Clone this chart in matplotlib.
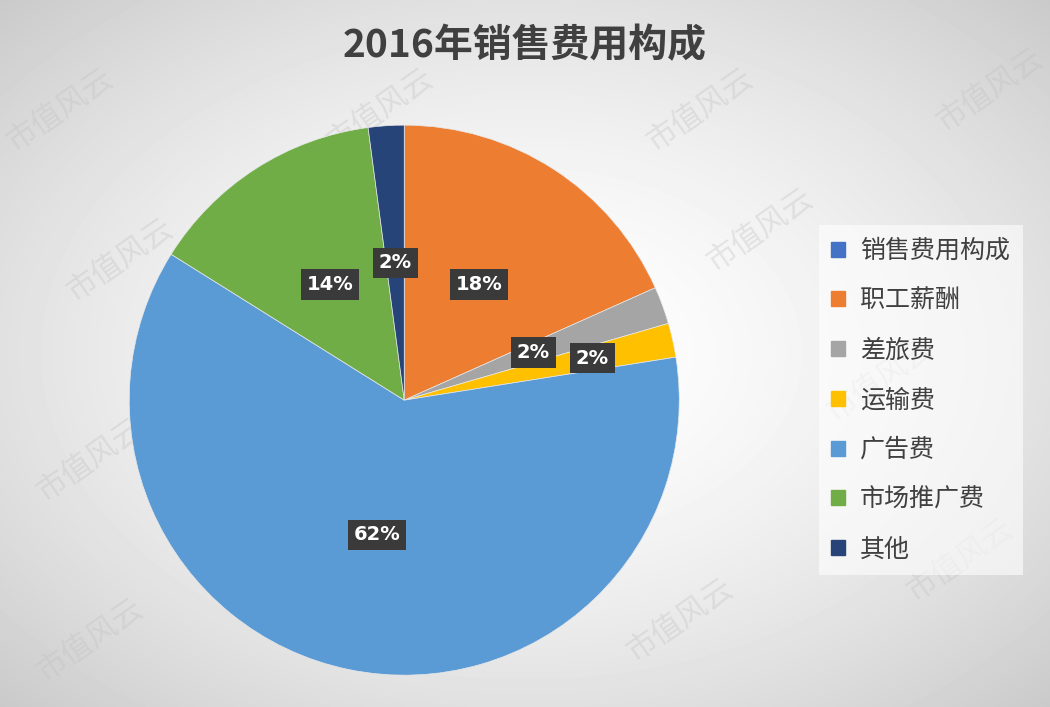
import numpy as np
import matplotlib.pyplot as plt
from matplotlib.patches import Patch

plt.rcParams['font.family'] = ['Noto Sans CJK SC', 'DejaVu Sans']

title = "2016年销售费用构成"
series_name = "销售费用构成"
categories = ["职工薪酬", "差旅费", "运输费", "广告费", "市场推广费", "其他"]
values = [18.3, 2.2, 2.0, 61.4, 14.0, 2.1]
labels = ["18%", "2%", "2%", "62%", "14%", "2%"]
colors = ["#ED7D31", "#A5A5A5", "#FFC000", "#5B9BD5", "#70AD47", "#264478"]

fig = plt.figure(figsize=(10.5, 7.07), dpi=100)

# radial grey background
bg = fig.add_axes([0, 0, 1, 1])
yy, xx = np.mgrid[0:707, 0:1050]
r = np.sqrt(((xx - 525) / 525.0) ** 2 + ((yy - 353) / 353.0) ** 2)
shade = np.clip(1.0 - 0.12 * r ** 1.6, 0, 1)
bg.imshow(shade, cmap='gray', vmin=0, vmax=1, aspect='auto', extent=[0, 1050, 707, 0])
bg.set_xlim(0, 1050)
bg.set_ylim(707, 0)
bg.axis('off')

# watermark
wm = [(60, 110), (380, 110), (700, 110), (990, 90), (120, 260), (760, 230),
      (200, 380), (560, 330), (880, 380), (90, 460), (330, 460), (620, 480),
      (960, 560), (380, 600), (680, 620), (90, 640)]
for wx, wy in wm:
    bg.text(wx, wy, "市值风云", fontsize=22, color='#c0c0c0', alpha=0.35,
            rotation=35, ha='center', va='center')

ax = fig.add_axes([0.123, 0.045, 0.524, 0.778])
wedges, _ = ax.pie(values, colors=colors, startangle=90, counterclock=False,
                   wedgeprops=dict(linewidth=0.5, edgecolor='#e8e8e8'))
ax.set_xlim(-1.0, 1.0)
ax.set_ylim(-1.0, 1.0)
ax.set_aspect('equal')

dists = [0.5, 0.5, 0.7, 0.5, 0.5, 0.5]
for w, lab, d in zip(wedges, labels, dists):
    ang = np.deg2rad((w.theta1 + w.theta2) / 2)
    ax.text(d * np.cos(ang), d * np.sin(ang), lab, ha='center', va='center',
            color='white', fontsize=14, fontweight='bold', family='DejaVu Sans',
            bbox=dict(boxstyle='square,pad=0.3', facecolor='#3a3a3a', edgecolor='none'))

fig.text(0.5, 0.935, title, ha='center', va='center', fontsize=28,
         fontweight='bold', color='#404040')

handles = [Patch(color="#4472C4", label=series_name)] + \
          [Patch(color=c, label=n) for c, n in zip(colors, categories)]
leg = fig.legend(handles=handles, loc='center left', bbox_to_anchor=(0.768, 0.434),
                 fontsize=18, frameon=True, handlelength=0.55, handleheight=0.55,
                 labelspacing=0.95, borderpad=0.5, fancybox=False, handletextpad=0.6)
leg.get_frame().set_facecolor('white')
leg.get_frame().set_alpha(0.6)
leg.get_frame().set_edgecolor('none')
for t in leg.get_texts():
    t.set_color('#404040')

fig.savefig("out.png", dpi=100)
